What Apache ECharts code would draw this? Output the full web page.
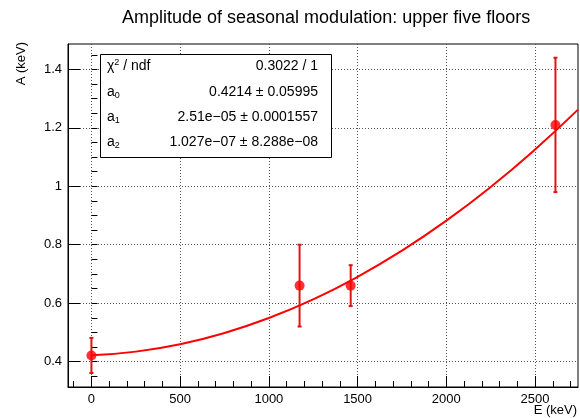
<!DOCTYPE html>
<html>
<head>
<meta charset="utf-8">
<script src="https://cdn.jsdelivr.net/npm/echarts@6/dist/echarts.min.js"></script>
<style>
html,body{margin:0;padding:0;background:#fff;}
#chart{width:580px;height:418px;}
</style>
</head>
<body>
<div id="chart"></div>
<script>
// ---- data ----
const energies = [0, 1173, 1461, 2615];
const amplitudes = [0.421, 0.66, 0.66, 1.21];
const errors = [0.06, 0.14, 0.07, 0.23];

// fit curve values
const fitEnergies = [0, 250, 500, 750, 1000, 1250, 1500, 1750, 2000, 2250, 2500, 2742];
const fitAmplitudes = [0.4214, 0.4341, 0.4596, 0.4980, 0.5492, 0.6132, 0.6901, 0.7798, 0.8824, 0.9978, 1.1260, 1.2623];

const xTicks = [0, 500, 1000, 1500, 2000, 2500];
const xMinorTicks = [-100, 0, 100, 200, 300, 400, 500, 600, 700, 800, 900, 1000, 1100, 1200, 1300, 1400, 1500, 1600, 1700, 1800, 1900, 2000, 2100, 2200, 2300, 2400, 2500, 2600, 2700];
const yTicks = [0.4, 0.6, 0.8, 1, 1.2, 1.4];
const yMinorTicks = [0.35, 0.4, 0.45, 0.5, 0.55, 0.6, 0.65, 0.7, 0.75, 0.8, 0.85, 0.9, 0.95, 1, 1.05, 1.1, 1.15, 1.2, 1.25, 1.3, 1.35, 1.4, 1.45];

const statLabels = ['χ{sup|2} / ndf', 'a{sub|0}', 'a{sub|1}', 'a{sub|2}'];
const statValues = ['0.3022 / 1', '0.4214 ± 0.05995', '2.51e−05 ± 0.0001557', '1.027e−07 ± 8.288e−08'];

const titleText = 'Amplitude of seasonal modulation: upper five floors';
const xTitle = 'E (keV)';
const yTitle = 'A (keV)';

// ---- chart ----
const FONT = '"Liberation Sans", Arial, Helvetica, sans-serif';
const chart = echarts.init(document.getElementById('chart'), null, {renderer: 'canvas'});

const gridLine = {show: true, lineStyle: {color: '#555', width: 1, type: [1, 2]}};
const plainNum = v => String(v);

const statsGraphic = [];
statsGraphic.push({
  type: 'rect', left: 100, top: 54, z: 100,
  shape: {width: 231, height: 103},
  style: {fill: '#fff', stroke: '#000', lineWidth: 1}
});
const rowY = [66.5, 92, 117, 142];
statLabels.forEach((t, i) => {
  statsGraphic.push({
    type: 'text', x: 107, y: rowY[i], z: 101,
    style: {
      text: t, fill: '#000', font: '14px ' + FONT,
      verticalAlign: 'middle', align: 'left',
      rich: {
        sup: {fontSize: 9, verticalAlign: 'top', padding: [0, 0, 8, 0], fill: '#000', fontFamily: FONT},
        sub: {fontSize: 9, padding: [8, 0, 0, 0], fill: '#000', fontFamily: FONT}
      }
    }
  });
});
statValues.forEach((t, i) => {
  statsGraphic.push({
    type: 'text', x: 318, y: rowY[i], z: 101,
    style: {text: t, fill: '#000', font: '14px ' + FONT, verticalAlign: 'middle', align: 'right'}
  });
});

const option = {
  backgroundColor: '#fff',
  animation: false,
  title: {
    text: titleText, left: 117, top: 4,
    textStyle: {fontSize: 18, fontWeight: 'normal', color: '#000', fontFamily: FONT}
  },
  grid: {left: 68, right: 2, top: 44, bottom: 31, show: true, borderColor: '#000', borderWidth: 1,
         backgroundColor: '#fff', containLabel: false, outerBoundsMode: 'none'},
  xAxis: [
    {
      type: 'value', min: -132, max: 2742, position: 'bottom',
      name: xTitle, nameLocation: 'end', nameGap: -1, nameMoveOverlap: false,
      nameTextStyle: {align: 'right', verticalAlign: 'top', padding: [17, 0, 0, 0], fontSize: 13, color: '#000', fontFamily: FONT},
      axisLine: {show: true, onZero: false, lineStyle: {color: '#000', width: 1}},
      axisTick: {show: true, inside: true, length: 11, customValues: xTicks, lineStyle: {color: '#000'}},
      axisLabel: {customValues: xTicks, formatter: plainNum, margin: 6, fontSize: 13, color: '#000', fontFamily: FONT},
      splitLine: gridLine
    },
    {
      type: 'value', min: -132, max: 2742, position: 'bottom',
      axisLine: {show: false},
      axisTick: {show: true, inside: true, length: 6, customValues: xMinorTicks, lineStyle: {color: '#000'}},
      axisLabel: {show: false, customValues: xMinorTicks},
      splitLine: {show: false}
    }
  ],
  yAxis: [
    {
      type: 'value', min: 0.313, max: 1.487, position: 'left',
      name: yTitle, nameLocation: 'end', nameRotate: 90, nameGap: 2, nameMoveOverlap: false,
      nameTextStyle: {align: 'right', verticalAlign: 'bottom', padding: [0, 0, 40, 0], fontSize: 13, color: '#000', fontFamily: FONT},
      axisLine: {show: true, onZero: false, lineStyle: {color: '#000', width: 1}},
      axisTick: {show: true, inside: true, length: 12, customValues: yTicks, lineStyle: {color: '#000'}},
      axisLabel: {customValues: yTicks, formatter: plainNum, margin: 6, fontSize: 13, color: '#000', fontFamily: FONT},
      splitLine: gridLine
    },
    {
      type: 'value', min: 0.313, max: 1.487, position: 'left',
      axisLine: {show: false},
      axisTick: {show: true, inside: true, length: 6, customValues: yMinorTicks, lineStyle: {color: '#000'}},
      axisLabel: {show: false, customValues: yMinorTicks},
      splitLine: {show: false}
    }
  ],
  series: [
    {
      name: 'fit', type: 'line', xAxisIndex: 0, yAxisIndex: 0,
      data: fitEnergies.map((e, i) => [e, fitAmplitudes[i]]),
      smooth: true, showSymbol: false, clip: true, z: 2,
      lineStyle: {color: '#f00', width: 2}
    },
    {
      name: 'errors', type: 'custom', xAxisIndex: 0, yAxisIndex: 0, z: 3,
      data: energies.map((e, i) => [e, amplitudes[i], errors[i]]),
      renderItem: function (params, api) {
        const x = api.value(0), y = api.value(1), err = api.value(2);
        const top = api.coord([x, y + err]);
        const bot = api.coord([x, y - err]);
        const style = {stroke: '#dd1515', lineWidth: 2};
        return {
          type: 'group',
          children: [
            {type: 'line', shape: {x1: top[0], y1: top[1], x2: bot[0], y2: bot[1]}, style: style},
            {type: 'line', shape: {x1: top[0] - 2, y1: top[1], x2: top[0] + 2, y2: top[1]}, style: style},
            {type: 'line', shape: {x1: bot[0] - 2, y1: bot[1], x2: bot[0] + 2, y2: bot[1]}, style: style}
          ]
        };
      }
    },
    {
      name: 'data', type: 'scatter', xAxisIndex: 0, yAxisIndex: 0, z: 4,
      data: energies.map((e, i) => [e, amplitudes[i]]),
      symbol: 'circle', symbolSize: 10,
      itemStyle: {color: '#f00'}
    }
  ],
  graphic: statsGraphic
};
chart.setOption(option);
</script>
</body>
</html>
